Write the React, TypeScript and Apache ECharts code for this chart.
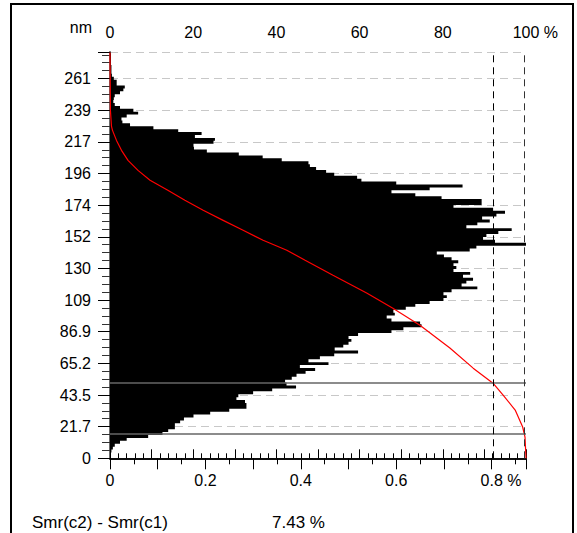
import React, { useEffect, useRef } from 'react';
import * as echarts from 'echarts';

// Height histogram: share of points (%) in each 2 nm bin, from 0 nm upward
const BIN_NM = 2;
const binShare = [
  0.002, 0.002, 0.003, 0.006, 0.01, 0.021, 0.035, 0.08, 0.11, 0.122,
  0.136, 0.136, 0.147, 0.155, 0.175, 0.21, 0.25, 0.286, 0.286, 0.283,
  0.265, 0.269, 0.3, 0.34, 0.39, 0.37, 0.367, 0.381, 0.391, 0.41,
  0.43, 0.398, 0.458, 0.416, 0.44, 0.47, 0.52, 0.471, 0.489, 0.5,
  0.506, 0.5, 0.52, 0.59, 0.615, 0.653, 0.65, 0.59, 0.58, 0.597,
  0.594, 0.62, 0.64, 0.67, 0.699, 0.706, 0.699, 0.716, 0.77, 0.737,
  0.747, 0.761, 0.74, 0.755, 0.72, 0.726, 0.72, 0.73, 0.716, 0.7,
  0.685, 0.754, 0.768, 0.872, 0.807, 0.782, 0.789, 0.814, 0.842, 0.747,
  0.77, 0.796, 0.78, 0.81, 0.828, 0.803, 0.72, 0.779, 0.779, 0.695,
  0.64, 0.59, 0.67, 0.739, 0.6, 0.527, 0.518, 0.47, 0.453, 0.432,
  0.419, 0.416, 0.36, 0.32, 0.27, 0.203, 0.176, 0.175, 0.217, 0.22,
  0.178, 0.192, 0.143, 0.091, 0.042, 0.026, 0.024, 0.035, 0.059, 0.049,
  0.021, 0.01, 0.007, 0.008, 0.01, 0.021, 0.028, 0.031, 0.014, 0.014,
  0.008, 0.004, 0.003, 0.003, 0.003, 0.002, 0.002, 0.002, 0.002, 0.001,
];

// Bearing-ratio (Abbott) curve: cumulative share from the top (%) against height (nm)
const curveNm = [
  278.6, 238.9, 227.9, 225.2, 218.3, 211.5, 204.6, 197.7, 190.9, 184.0,
  177.2, 170.3, 163.4, 156.6, 149.7, 142.9, 136.0, 125.7, 113.3, 103.1,
  91.4, 75.7, 61.9, 51.6, 43.4, 33.1, 21.5, 14.6, 0,
];
const curvePct = [
  0, 0.1, 0.36, 0.6, 1.56, 2.76, 4.33, 6.73, 9.62, 13.9,
  18.0, 22.4, 27.2, 32.0, 36.8, 42.5, 46.9, 53.6, 61.8, 68.0,
  74.5, 81.7, 87.3, 92.07, 94.5, 97.4, 99.2, 99.76, 100,
];

// Height axis
const Y_STEP = 21.73;
const Y_MAX = 279;
const yTickLabels = ['0', '21.7', '43.5', '65.2', '86.9', '109', '130', '152', '174', '196', '217', '239', '261'];

// Histogram axis (%) and bearing axis (%)
const X_MAX = 0.872;

// Cursor positions
const C1_NM = 51.6;
const C2_NM = 17.1;
const SMR_C1 = 92.07;
const SMR_C2 = 99.5;

const FONT = "'Liberation Sans', Arial, Helvetica, sans-serif";
const FS = 16;

export default function App() {
  const ref = useRef<HTMLDivElement>(null);

  useEffect(() => {
    const chart = echarts.init(ref.current!, null, { renderer: 'svg' });

    const bins = binShare.map((v, i) => [i * BIN_NM, Math.min((i + 1) * BIN_NM, Y_MAX), v]);
    const curve = curveNm.map((nm, i) => [curvePct[i], nm]);
    const unitW = FS * (0.278 + 0.889);

    const labelStyle = { color: '#000', fontFamily: FONT, fontSize: FS };
    const rich = {
      pad: { width: unitW, fontFamily: FONT, fontSize: FS },
      v: { color: '#000', fontFamily: FONT, fontSize: FS },
      unit: { color: '#000', fontFamily: FONT, fontSize: FS },
    };

    const bottomFmt = (val: number) => {
      const k = Math.round(val * 10);
      if (Math.abs(val * 10 - k) > 1e-6 || k % 2) return '';
      const s = k === 0 ? '0' : (k / 10).toFixed(1);
      const lastK = Math.floor((X_MAX * 10) / 2) * 2;
      return k === lastK ? `{pad|}{v|${s}}{unit| %}` : s;
    };
    const topFmt = (val: number) => {
      const k = Math.round(val / 10);
      if (Math.abs(val - k * 10) > 1e-6 || k % 2) return '';
      return k === 10 ? `{pad|}{v|${val}}{unit| %}` : String(val);
    };
    const yFmt = (val: number) => {
      const k = Math.round(val / Y_STEP);
      if (Math.abs(val - k * Y_STEP) > 1e-6 || k >= yTickLabels.length) return '';
      return yTickLabels[k];
    };

    chart.setOption({
      animation: false,
      backgroundColor: '#fff',
      grid: { left: 110, top: 52, width: 416, height: 406.3, containLabel: false },
      xAxis: [
        {
          type: 'value',
          position: 'bottom',
          min: 0,
          max: X_MAX,
          interval: 0.1,
          axisLine: { show: true, lineStyle: { color: '#000', width: 1.5 } },
          axisTick: { show: true, length: 11, lineStyle: { color: '#000', width: 1 } },
          minorTick: { show: true, splitNumber: 2, length: 6, lineStyle: { color: '#000', width: 1 } },
          splitLine: { show: false },
          minorSplitLine: { show: false },
          axisLabel: { ...labelStyle, margin: 14, showMaxLabel: false, formatter: bottomFmt, rich },
        },
        {
          type: 'value',
          position: 'top',
          min: 0,
          max: 100,
          interval: 10,
          axisLine: { show: true, lineStyle: { color: '#000', width: 1.5 } },
          axisTick: { show: true, length: 9, lineStyle: { color: '#000', width: 1 } },
          minorTick: { show: true, splitNumber: 5, length: 5, lineStyle: { color: '#000', width: 1 } },
          splitLine: { show: false },
          axisLabel: { ...labelStyle, margin: 12, formatter: topFmt, rich },
        },
      ],
      yAxis: [
        {
          type: 'value',
          position: 'left',
          min: 0,
          max: Y_MAX,
          interval: Y_STEP,
          axisLine: { show: true, lineStyle: { color: '#000', width: 1.5 } },
          axisTick: { show: true, length: 12, lineStyle: { color: '#000', width: 1 } },
          minorTick: { show: true, splitNumber: 4, length: 8, lineStyle: { color: '#333', width: 1 } },
          splitLine: { show: true, lineStyle: { color: '#c8c8c8', width: 1, type: [8, 5] } },
          axisLabel: { ...labelStyle, margin: 19, showMaxLabel: false, formatter: yFmt },
        },
        {
          type: 'value',
          position: 'right',
          min: 0,
          max: Y_MAX,
          axisLine: { show: true, lineStyle: { color: '#777', width: 1.5 } },
          axisTick: { show: false },
          axisLabel: { show: false },
          splitLine: { show: false },
        },
      ],
      series: [
        {
          // cursor lines (behind the histogram)
          type: 'line',
          xAxisIndex: 1,
          yAxisIndex: 0,
          data: [],
          z: 1,
          markLine: {
            silent: true,
            symbol: 'none',
            label: { show: false },
            data: [
              { yAxis: C1_NM, lineStyle: { color: '#666', width: 1.5, type: 'solid' } },
              { yAxis: C2_NM, lineStyle: { color: '#666', width: 1.5, type: 'solid' } },
              { xAxis: SMR_C1, lineStyle: { color: '#000', width: 1, type: [7, 5] } },
              { xAxis: SMR_C2, lineStyle: { color: '#333', width: 1, type: [7, 5] } },
            ],
          },
        },
        {
          // histogram drawn as one stepped outline so adjacent bins have no seams
          type: 'custom',
          xAxisIndex: 0,
          yAxisIndex: 0,
          z: 2,
          clip: true,
          data: [bins[0]],
          encode: { x: 2, y: [0, 1] },
          renderItem: (_params: any, api: any) => {
            const pts: number[][] = [api.coord([0, bins[0][0]])];
            bins.forEach(([lo, hi, v]) => {
              pts.push(api.coord([v, lo]));
              pts.push(api.coord([v, hi]));
            });
            pts.push(api.coord([0, bins[bins.length - 1][1]]));
            return {
              type: 'polygon',
              shape: { points: pts },
              style: { fill: '#000', stroke: null },
            };
          },
        },
        {
          type: 'line',
          xAxisIndex: 1,
          yAxisIndex: 0,
          z: 3,
          data: curve,
          symbol: 'none',
          lineStyle: { color: '#ff0000', width: 1.2 },
        },
      ],
      graphic: [
        {
          type: 'rect',
          shape: { x: 11, y: 4, width: 562, height: 540 },
          style: { fill: 'none', stroke: '#000', lineWidth: 2 },
          silent: true,
        },
        {
          type: 'text',
          style: { text: 'nm', x: 92, y: 27, align: 'right', verticalAlign: 'middle', fill: '#000', fontFamily: FONT, fontSize: FS },
        },
        {
          type: 'text',
          style: { text: 'Smr(c2) - Smr(c1)', x: 32, y: 522, align: 'left', verticalAlign: 'middle', fill: '#000', fontFamily: FONT, fontSize: 17 },
        },
        {
          type: 'text',
          style: {
            text: `${(SMR_C2 - SMR_C1).toFixed(2)} %`,
            x: 272,
            y: 522,
            align: 'left',
            verticalAlign: 'middle',
            fill: '#000',
            fontFamily: FONT,
            fontSize: 17,
          },
        },
      ],
    });

    return () => chart.dispose();
  }, []);

  return (
    <div
      ref={ref}
      style={{ position: 'fixed', left: 0, top: 0, width: 577, height: 533, background: '#fff' }}
    />
  );
}
